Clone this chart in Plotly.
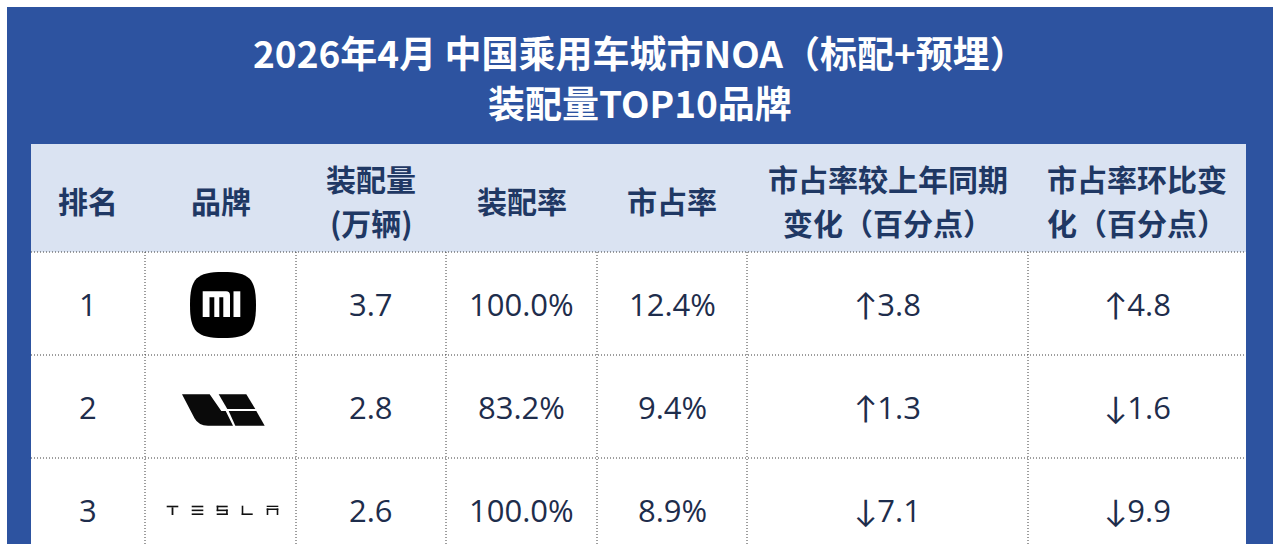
import plotly.graph_objects as go

# ---------------- data ----------------
title_lines = ["2026年4月 中国乘用车城市NOA（标配+预埋）", "装配量TOP10品牌"]
header_lines = [["排名"], ["品牌"], ["装配量", "(万辆)"], ["装配率"], ["市占率"],
                ["市占率较上年同期", "变化（百分点）"], ["市占率环比变", "化（百分点）"]]
ranks = [1, 2, 3]
brands = ["小米", "理想", "特斯拉"]
volumes = [3.7, 2.8, 2.6]          # 万辆
fit_rates = [100.0, 83.2, 100.0]   # %
shares = [12.4, 9.4, 8.9]          # %
yoy_change = [3.8, 1.3, -7.1]      # 百分点
mom_change = [4.8, -1.6, -9.9]     # 百分点

# ---------------- layout / style ----------------
W, H = 1280, 544
BLUE = "#2d53a0"
HEAD_BG = "#dae3f2"
HEAD_TXT = "#1f3864"
BODY_TXT = "#1e2d4c"
LINE = "#3c3c3c"
CJK = "Noto Sans CJK SC"
NUM = "Open Sans, Liberation Sans, Noto Sans CJK SC"

col_edges = [31, 145, 296, 446, 597, 747, 1028, 1246]
head_top, head_bot = 144, 252
row_h = 103
col_c = [(a + b) / 2 for a, b in zip(col_edges[:-1], col_edges[1:])]
row_c = [head_bot + row_h * (i + 0.5) for i in range(len(ranks))]

shapes = []
ann = []

def rect(x0, y0, x1, y1, color, layer="below"):
    shapes.append(dict(type="rect", xref="x", yref="y", x0=x0, y0=y0, x1=x1, y1=y1,
                       fillcolor=color, line=dict(width=0), layer=layer))

def path(d, color):
    shapes.append(dict(type="path", xref="x", yref="y", path=d, fillcolor=color,
                       line=dict(width=0), layer="above"))

def poly(cx, cy, lst, color):
    d = "M " + " L ".join(f"{cx + dx:.2f},{cy + dy:.2f}" for dx, dy in lst) + " Z"
    path(d, color)

def text(x, y, s, size, color, family, weight="normal"):
    ann.append(dict(x=x, y=y, xref="x", yref="y", text=s, showarrow=False,
                    xanchor="center", yanchor="middle",
                    font=dict(size=size, color=color, family=family, weight=weight)))

# background panels
rect(7, 7, 1273, H + 5, BLUE)
rect(col_edges[0], head_top, col_edges[-1], head_bot, HEAD_BG)
rect(col_edges[0], head_bot, col_edges[-1], H + 5, "#ffffff")

# dotted grid
for i in range(len(ranks)):
    y = head_bot + row_h * i
    shapes.append(dict(type="line", xref="x", yref="y", x0=col_edges[0], x1=col_edges[-1],
                       y0=y, y1=y, line=dict(color=LINE, width=1, dash="1px,2px"), layer="above"))
for x in col_edges[1:-1]:
    shapes.append(dict(type="line", xref="x", yref="y", x0=x, x1=x, y0=head_bot, y1=H + 5,
                       line=dict(color=LINE, width=1, dash="1px,2px"), layer="above"))

# title
for i, t in enumerate(title_lines):
    text(640, 52 + 50 * i, t, 37, "#ffffff", CJK, "bold")

# header
for c, lines in zip(col_c, header_lines):
    if len(lines) == 1:
        text(c, 200, lines[0], 30, HEAD_TXT, CJK, "bold")
    else:
        for j, ln in enumerate(lines):
            text(c, 178 + 44 * j, ln, 30, HEAD_TXT, CJK, "bold")

def arrow(v):
    a = "↑" if v >= 0 else "↓"
    return f'<span style="font-family:Lato">{a}</span>{abs(v):.1f}'

for i in range(len(ranks)):
    y = row_c[i]
    text(col_c[0], y, str(ranks[i]), 31, BODY_TXT, NUM)
    text(col_c[2], y, f"{volumes[i]:.1f}", 31, BODY_TXT, NUM)
    text(col_c[3], y, f"{fit_rates[i]:.1f}%", 31, BODY_TXT, NUM)
    text(col_c[4], y, f"{shares[i]:.1f}%", 31, BODY_TXT, NUM)
    text(col_c[5], y, arrow(yoy_change[i]), 31, BODY_TXT, NUM)
    text(col_c[6], y, arrow(mom_change[i]), 31, BODY_TXT, NUM)

# ---------------- brand logos (drawn) ----------------
def logo_xiaomi(cx, cy):
    ox, oy, a, k = cx + 2.5, cy + 1.5, 33, 0.80
    d = (f"M {ox},{oy - a} "
         f"C {ox + a * k},{oy - a} {ox + a},{oy - a * k} {ox + a},{oy} "
         f"C {ox + a},{oy + a * k} {ox + a * k},{oy + a} {ox},{oy + a} "
         f"C {ox - a * k},{oy + a} {ox - a},{oy + a * k} {ox - a},{oy} "
         f"C {ox - a},{oy - a * k} {ox - a * k},{oy - a} {ox},{oy - a} Z")
    path(d, "#000000")
    t, m, b = -12.2, -6.3, 13.5
    L0, L1, M0, M1, R0, R1 = -17.8, -11.0, -6.2, -1.2, 2.8, 9.5
    m_path = (f"M {cx + L0},{cy + t} L {cx + R1 - 4},{cy + t} "
              f"Q {cx + R1},{cy + t} {cx + R1},{cy + t + 4} "
              f"L {cx + R1},{cy + b} L {cx + R0},{cy + b} L {cx + R0},{cy + m} "
              f"L {cx + M1},{cy + m} L {cx + M1},{cy + b} L {cx + M0},{cy + b} "
              f"L {cx + M0},{cy + m} L {cx + L1},{cy + m} L {cx + L1},{cy + b} "
              f"L {cx + L0},{cy + b} Z")
    path(m_path, "#ffffff")
    poly(cx, cy, [(13.0, t), (19.8, t), (19.8, b), (13.0, b)], "#ffffff")

def logo_li(cx, cy):
    col = "#0a0a0a"
    d = (f"M {cx - 38.5},{cy - 12.2} L {cx - 10.8},{cy - 12.2} L {cx + 0.8},{cy + 4.5} "
         f"L {cx + 5.2},{cy + 4.5} L {cx + 12.5},{cy + 19.2} L {cx - 12.5},{cy + 19.2} "
         f"Q {cx - 22},{cy + 19.2} {cx - 26},{cy + 11.8} Z")
    path(d, col)
    poly(cx, cy, [(-1.8, -12.2), (25.8, -12.2), (34.8, 2.5), (6.8, 2.5)], col)
    poly(cx, cy, [(8.2, 4.5), (35.8, 4.5), (44.2, 19.2), (14.8, 19.2)], col)

def logo_tesla(cx, cy):
    t, b, th = -3.8, 5.5, 1.6
    mid = (t + b) / 2
    col = "#111111"
    def r(x0, y0, x1, y1):
        rect(cx + x0, cy + y0, cx + x1, cy + y1, col, layer="above")
    # T
    r(-53.8, t, -42.2, t + th); r(-48.9, t + th, -47.1, b)
    # E
    r(-28.8, t, -17.2, t + th); r(-28.8, mid - th / 2, -17.2, mid + th / 2); r(-28.8, b - th, -17.2, b)
    # S
    r(-3.8, t, 7.2, t + th); r(-3.8, t, -2.2, mid + th / 2); r(-3.8, mid - th / 2, 7.2, mid + th / 2)
    r(5.6, mid - th / 2, 7.2, b); r(-3.8, b - th, 7.2, b)
    # L
    r(21.2, t, 22.8, b); r(21.2, b - th, 32.2, b)
    # A
    r(46.2, t, 57.8, t + 1.3); r(46.2, t + 2.8, 57.8, t + 4.3)
    r(46.2, t + 2.8, 47.8, b); r(56.2, t + 2.8, 57.8, b)

logo_makers = {"小米": logo_xiaomi, "理想": logo_li, "特斯拉": logo_tesla}
for i, brand in enumerate(brands):
    logo_makers[brand](col_c[1], row_c[i])

fig = go.Figure()
fig.add_trace(go.Scatter(x=[col_c[1]] * len(brands), y=row_c, mode="markers",
                         marker=dict(size=1, opacity=0), text=brands,
                         hoverinfo="text", showlegend=False))
fig.update_layout(
    width=W, height=H, margin=dict(l=0, r=0, t=0, b=0),
    paper_bgcolor="#ffffff", plot_bgcolor="#ffffff",
    xaxis=dict(range=[0, W], visible=False, fixedrange=True),
    yaxis=dict(range=[H, 0], visible=False, fixedrange=True),
    shapes=shapes, annotations=ann, showlegend=False,
)
fig.write_html("out.html", config={"displayModeBar": False},
               post_script="document.body.style.margin='0';document.body.style.overflow='hidden';")
